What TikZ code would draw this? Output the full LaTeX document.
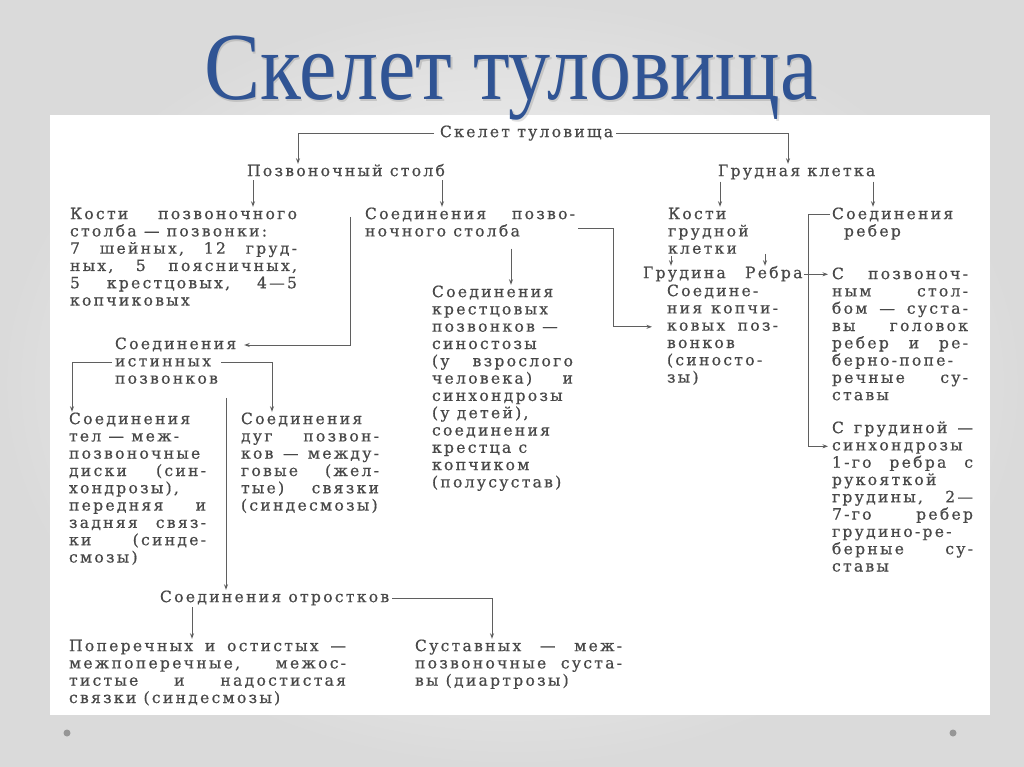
\documentclass[tikz,border=0pt]{standalone}
\usepackage{fontspec}
\usetikzlibrary{arrows.meta,calc}
\newfontfamily\tf{DejaVu Serif}[LetterSpace=14.5,FakeBold=0.6]
\newfontfamily\ttlf{Liberation Serif}
\definecolor{titleblue}{RGB}{48,84,148}
\definecolor{txtc}{RGB}{72,72,72}
\definecolor{lncol}{RGB}{95,95,95}
\definecolor{bgout}{RGB}{218,218,218}
\definecolor{dotc}{RGB}{150,150,150}
\newcommand\fst{\rule{0pt}{12.3pt}}
\newcommand\tfset{\hyphenpenalty=10000\relax\exhyphenpenalty=10000\relax\tolerance=9999\relax}
\tikzset{
  lbl/.style={inner sep=0pt, outer sep=0pt, anchor=north west, text=txtc,
    font=\tf\fontsize{15.6}{17.3}\selectfont\tfset},
  blk/.style={lbl, align=justify, text width=#1},
  lft/.style={lbl, align=left},
  arr/.style={draw=lncol, line width=1pt, -{Stealth[length=5.5pt,width=4pt]}},
  ttlstyle/.style={inner sep=0pt, anchor=base, font=\ttlf\fontsize{96}{96}\selectfont},
}
\begin{document}
\begin{tikzpicture}[x=1pt,y=-1pt]
\useasboundingbox (0,0) rectangle (1024,767);
\shade[inner color=white, outer color=bgout] (0,0) rectangle (1024,767);
\fill[white] (50,115) rectangle (990,715);
\fill[dotc] (67,733) circle[radius=3.5];
\fill[dotc] (953,733) circle[radius=3.5];
% title
\node[ttlstyle, text=black, opacity=0.12] (ttlsh) at (512.5,101.5) {\scalebox{0.875}[1]{Скелет туловища}};
\node[ttlstyle, text=titleblue] (ttl) at (511,99.5) {\scalebox{0.875}[1]{Скелет туловища}};
% nodes, left part
\node[lbl] (top) at (440,124.8) {\fst Скелет~туловища};
\node[lbl] (pozv) at (247,163.8) {\fst Позвоночный~столб};
\node[lbl] (grudkl) at (718,163.8) {\fst Грудная~клетка};
\node[blk=227pt] (kp) at (70,206.8) {\fst Кости~позвоночного\linebreak
столба~—~позвонки:\\
7~шейных,~12~груд-\linebreak
ных,~5~поясничных,\linebreak
5~крестцовых,~4—5\linebreak
копчиковых};
\node[blk=210pt] (sp) at (365,206.8) {\fst Соединения~позво-\linebreak
ночного~столба};
\node[blk=141pt] (kr) at (432,284.8) {\fst Соединения\\
крестцовых\\
позвонков~—\\
синостозы\\
(у~взрослого\linebreak
человека)~и\linebreak
синхондрозы\\
(у~детей),\\
соединения\\
крестца~с\\
копчиком\\
(полусустав)};
\node[lft] (ist) at (115,336.8) {\fst Соединения\\истинных\\позвонков};
\node[blk=137pt] (tel) at (69,411.8) {\fst Соединения\\
тел~—~меж-\\
позвоночные\\
диски~(син-\linebreak
хондрозы),\\
передняя~и\linebreak
задняя~связ-\linebreak
ки~(синде-\linebreak
смозы)};
\node[blk=138pt] (dug) at (241,411.8) {\fst Соединения\\
дуг~позвон-\linebreak
ков~—~между-\linebreak
говые~(жел-\linebreak
тые)~связки\linebreak
(синдесмозы)};
\node[lbl] (otr) at (160,589.8) {\fst Соединения~отростков};
\node[blk=277pt] (pop) at (69,638.8) {\fst Поперечных~и~остистых~—\linebreak
межпоперечные,~межос-\linebreak
тистые~и~надостистая\linebreak
связки~(синдесмозы)};
\node[blk=207pt] (sus) at (415,638.8) {\fst Суставных~—~меж-\linebreak
позвоночные~суста-\linebreak
вы~(диартрозы)};
% nodes, right part
\node[lft] (kg) at (668,206.8) {\fst Кости\\грудной\\клетки};
\node[lbl] (grd) at (643,265.8) {\fst Грудина};
\node[lbl] (reb) at (745,265.8) {\fst Ребра};
\node[blk=111pt] (sk) at (667,283.8) {\fst Соедине-\\
ния~копчи-\linebreak
ковых~поз-\linebreak
вонков\\
(синосто-\\
зы)};
\node[lft] (sr) at (832,206.8) {\fst Соединения\\\hspace*{12pt}ребер};
\node[blk=136pt] (spz) at (832,266.8) {\fst С~позвоноч-\linebreak
ным~стол-\linebreak
бом~—~суста-\linebreak
вы~головок\linebreak
ребер~и~ре-\linebreak
берно-попе-\\
речные~су-\linebreak
ставы};
\node[blk=141pt] (sg) at (832,420.8) {\fst С~грудиной~—\linebreak
синхондрозы\\
1-го~ребра~с\linebreak
рукояткой\\
грудины,~2—\linebreak
7-го~ребер\linebreak
грудино-ре-\\
берные~су-\linebreak
ставы};
% connectors
\draw[arr] ($(top.base west)+(-6,-3.8)$) -| ($(pozv.north west)+(51,0)$);
\draw[arr] ($(top.base east)+(3,-3.8)$) -| ($(grudkl.north west)+(70,0)$);
\coordinate (c1) at ($(pozv.south west)+(6,4)$);
\draw[arr] (c1) -- (c1 |- kp.north);
\coordinate (c2) at ($(pozv.south west)+(195,4)$);
\draw[arr] (c2) -- (c2 |- sp.north);
\coordinate (c3) at ($(sp.north west)+(-15,10)$);
\draw[arr] (c3) |- ($(ist.north east)+(8,8.2)$);
\coordinate (c4) at ($(sp.south west)+(146,12)$);
\draw[arr] (c4) -- (c4 |- kr.north);
\coordinate (c5) at ($(sp.north east)+(3,22)$);
\draw[arr] (c5) -| ($(sk.north west)+(-54,43)$) -- ($(sk.north west)+(-15,43)$);
\coordinate (c6) at ($(ist.north west)+(-3,25.5)$);
\draw[arr] (c6) -| ($(tel.north west)+(3,0)$);
\coordinate (c7) at ($(ist.north west)+(106,25.5)$);
\draw[arr] (c7) -| ($(dug.north west)+(31,0)$);
\coordinate (c8) at ($(ist.south west)+(111,14)$);
\draw[arr] (c8) -- (c8 |- otr.north);
\coordinate (c9) at ($(otr.south west)+(32,2)$);
\draw[arr] (c9) -- (c9 |- pop.north);
\draw[arr] ($(otr.base east)+(3,-3.8)$) -| ($(sus.north west)+(77,0)$);
\coordinate (c10) at ($(grudkl.south west)+(2,2)$);
\draw[arr] (c10) -- (c10 |- kg.north);
\coordinate (c11) at ($(grudkl.south west)+(155,2)$);
\draw[arr] (c11) -- (c11 |- sr.north);
\coordinate (c12) at ($(kg.south west)+(3,2)$);
\draw[arr] (c12) -- (c12 |- grd.north);
\coordinate (c13) at ($(kg.south west)+(97,0)$);
\draw[arr] (c13) -- (c13 |- reb.north);
\coordinate (c14) at ($(reb.base east)+(2,-3.8)$);
\draw[arr] (c14) -- ($(c14 -| spz.west)+(-4,0)$);
\coordinate (c15) at ($(sr.north west)+(-2,8.2)$);
\draw[arr] (c15) -- ($(sr.north west)+(-24,8.2)$) |- ($(sg.north west)+(-4,25.5)$);
\end{tikzpicture}
\end{document}
